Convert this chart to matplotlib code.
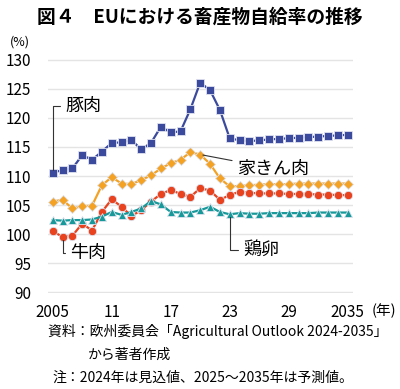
import matplotlib
matplotlib.use("Agg")
import matplotlib.pyplot as plt

plt.rcParams['font.family'] = ['Noto Sans CJK JP', 'DejaVu Sans']

years = list(range(2005, 2036))
pork = [110.6, 111.0, 111.3, 113.6, 112.8, 114.2, 115.7, 115.8, 116.2, 114.6,
        115.7, 118.5, 117.5, 117.7, 121.5, 126.1, 124.8, 121.4, 116.5, 116.15,
        116.0, 116.15, 116.3, 116.4, 116.5, 116.6, 116.7, 116.8, 116.9, 117.0, 117.1]
poultry = [105.6, 105.9, 104.4, 104.8, 104.9, 108.4, 109.8, 108.7, 108.6, 109.3,
           110.1, 111.3, 112.2, 112.8, 114.1, 113.7, 112.1, 109.6, 108.2, 108.3,
           108.4, 108.5, 108.6, 108.6, 108.6, 108.7, 108.7, 108.7, 108.7, 108.7, 108.7]
beef = [100.5, 99.5, 99.7, 101.8, 100.6, 103.8, 106.0, 104.7, 103.1, 104.1,
        105.6, 106.9, 107.6, 106.9, 106.4, 107.9, 107.5, 105.9, 106.7, 107.3,
        107.1, 107.0, 107.0, 107.0, 106.9, 106.9, 106.9, 106.8, 106.8, 106.7, 106.7]
eggs = [102.4, 102.3, 102.4, 102.4, 102.5, 103.0, 103.8, 103.3, 103.8, 104.4,
        105.7, 105.1, 103.8, 103.7, 103.7, 104.1, 104.7, 103.8, 103.4, 103.6,
        103.5, 103.5, 103.6, 103.6, 103.6, 103.6, 103.6, 103.7, 103.7, 103.7, 103.7]

xticks = [2005, 2011, 2017, 2023, 2029, 2035]
xticklabels = ["2005", "11", "17", "23", "29", "2035"]
yticks = [90, 95, 100, 105, 110, 115, 120, 125, 130]

fig = plt.figure(figsize=(4.0, 3.89), dpi=100)
ax = fig.add_axes([0.1195, 0.2463, 0.762, 0.6025])

series = [
    (pork, "#3b4a9c", "s", 6.0),
    (poultry, "#f4a223", "D", 4.6),
    (beef, "#e8421e", "o", 6.0),
    (eggs, "#17999a", "^", 5.5),
]
for vals, col, mk, ms in series:
    ax.plot(years, vals, color=col, lw=1.6, marker=mk, ms=ms,
            markeredgecolor="#dfe3f0", markeredgewidth=0.6, zorder=3)

ax.set_xlim(2004.5, 2035.5)
ax.set_ylim(89.8, 130.2)
ax.set_yticks(yticks)
ax.set_xticks(xticks)
ax.set_xticklabels(xticklabels)
ax.grid(axis="y", color="#e4e4e4", lw=1.0, zorder=0)
for s in ax.spines.values():
    s.set_visible(False)
ax.tick_params(length=0, labelsize=11)
ax.tick_params(axis="y", pad=12)
ax.tick_params(axis="x", pad=8)

# series labels with leader lines
lk = dict(color="#333333", lw=0.8)
ax.annotate("豚肉", xy=(2005, pork[0]), xytext=(2006.3, 122.0), fontsize=13,
            va="center", ha="left",
            arrowprops=dict(arrowstyle="-", connectionstyle="angle,angleA=0,angleB=90,rad=0", **lk))
ax.annotate("家きん肉", xy=(2020, poultry[15]), xytext=(2023.8, 111.3), fontsize=13,
            va="center", ha="left", arrowprops=dict(arrowstyle="-", **lk))
ax.annotate("牛肉", xy=(2006, beef[1]), xytext=(2006.8, 96.8), fontsize=13,
            va="center", ha="left",
            arrowprops=dict(arrowstyle="-", connectionstyle="angle,angleA=0,angleB=90,rad=0", **lk))
ax.annotate("鶏卵", xy=(2023, eggs[18]), xytext=(2024.4, 97.3), fontsize=13,
            va="center", ha="left",
            arrowprops=dict(arrowstyle="-", connectionstyle="angle,angleA=0,angleB=90,rad=0", **lk))

fig.text(0.5, 0.955, "図４　EUにおける畜産物自給率の推移", ha="center", va="center",
         fontsize=13.5, fontweight="bold")
fig.text(0.025, 0.892, "(%)", ha="left", va="center", fontsize=9)
fig.text(0.93, 0.2, "(年)", ha="left", va="center", fontsize=10.5)

fig.text(0.12, 0.147, "資料：欧州委員会「Agricultural Outlook 2024-2035」",
         ha="left", va="center", fontsize=10)
fig.text(0.22, 0.088, "から著者作成", ha="left", va="center", fontsize=10)
fig.text(0.132, 0.03, "注：2024年は見込値、2025～2035年は予測値。",
         ha="left", va="center", fontsize=10)

fig.savefig("out.png", dpi=100)
